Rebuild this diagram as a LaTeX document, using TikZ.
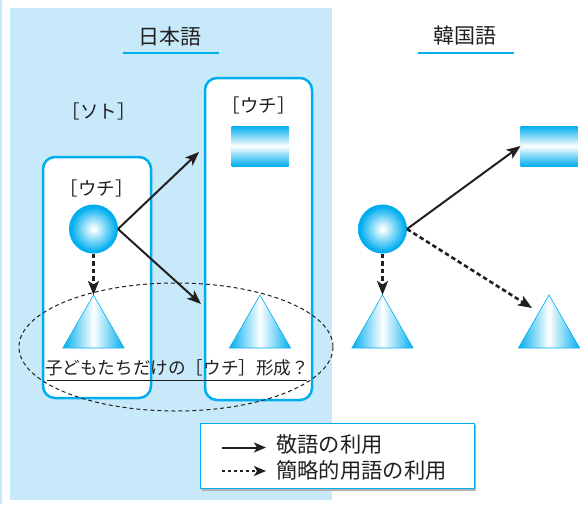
\documentclass[tikz,border=0pt]{standalone}
\usepackage{fontspec}
\setmainfont{Noto Sans CJK JP}
\usetikzlibrary{arrows.meta,shapes.geometric}
\definecolor{cyanA}{RGB}{0,174,239}
\definecolor{panelc}{RGB}{199,233,250}
\definecolor{ink}{RGB}{35,31,32}
\pgfdeclareradialshading{myball}{\pgfpoint{0bp}{0bp}}{rgb(0bp)=(1,1,1); rgb(2bp)=(0.95,0.99,1); rgb(23bp)=(0,0.682,0.937); rgb(50bp)=(0,0.682,0.937)}
\begin{document}
\begin{tikzpicture}[x=1pt,y=-1pt,
  ubox/.style={draw=cyanA,line width=2.5pt,fill=white,rounded corners=12pt},
  ball/.style={circle,minimum size=49pt,inner sep=0pt,outer sep=0pt,shading=myball},
  bar/.style={rectangle,minimum width=57pt,minimum height=40pt,inner sep=0pt,outer sep=0pt,top color=cyanA,bottom color=cyanA,middle color=white},
  tri/.style={regular polygon,regular polygon sides=3,minimum size=70.6pt,inner sep=0pt,outer sep=0pt,left color=cyanA,right color=cyanA,middle color=white,draw=cyanA,line width=0.6pt},
  solidarr/.style={draw=ink,line width=2pt,-{Stealth[length=14pt,width=11pt,inset=3.5pt]}},
  dotarr/.style={draw=ink,line width=2.6pt,dash pattern=on 4.5pt off 3pt,-{Stealth[length=14pt,width=11pt,inset=3.5pt]}},
  title/.style={font=\fontsize{21}{25}\selectfont,text=ink,inner sep=0pt},
  lab/.style={font=\fontsize{18.5}{22}\selectfont,text=ink,inner sep=0pt},
  legtext/.style={font=\fontsize{21.3}{25}\selectfont,text=ink,inner sep=0pt,anchor=west},
  uline/.style={draw=cyanA,line width=2pt}
]
\useasboundingbox (0,0) rectangle (580,504);
% panel
\fill[panelc] (10,8) rectangle (332,500);
\fill[panelc] (0,0) rectangle (1.8,504);
% titles
\node[title] (tj) at (170,37) {日本語};
\node[title] (tk) at (464.5,36) {韓国語};
\draw[uline] (123,53) -- (219,53);
\draw[uline] (418,53) -- (514,53);
% boxes
\draw[ubox] (43,157) rectangle (151,398);
\draw[ubox] (205,78) rectangle (312,400);
% ellipse
\draw[ink,line width=1pt,dash pattern=on 4pt off 3pt] (176,347) ellipse [x radius=157, y radius=64];
% labels
\node[lab] (soto) at (98.5,111.5) {［ソト］};
\node[lab] (uchiL) at (96.5,188) {［ウチ］};
\node[lab] (uchiR) at (258.5,105) {［ウチ］};
% japanese shapes
\node[ball] (cL) at (93.5,229) {};
\node[bar] (rJ) at (260,146) {};
\node[tri] (tL) at (93.5,330.3) {};
\node[tri] (tJ) at (260,330.3) {};
% korean shapes
\node[ball] (cK) at (382.5,229) {};
\node[bar] (rK) at (549,146) {};
\node[tri] (tK1) at (382.5,330.3) {};
\node[tri] (tK2) at (549,330.3) {};
% arrow end coordinates
\coordinate (eJu) at (199,152);
\coordinate (eJd) at (201,304);
\coordinate (eKd) at (532,308);
% arrows
\draw[solidarr] (cL.east) -- (eJu);
\draw[solidarr] (cL.east) -- (eJd);
\draw[dotarr] (cL.south) -- (tL.corner 1);
\draw[solidarr] (cK.east) -- (rK.west);
\draw[dotarr] (cK.east) -- (eKd);
\draw[dotarr] (cK.south) -- (tK1.corner 1);
% caption
\node[font=\fontsize{17.6}{21}\selectfont,text=ink,inner sep=0pt] (cap) at (177,367.5) {子どもたちだけの［ウチ］形成？};
\draw[ink,line width=1pt] (47,380) -- (307,380);
% legend
\fill[gray!60] (202,425) rectangle (476,490.5);
\node[draw=cyanA,line width=1.2pt,fill=white,rectangle,minimum width=274pt,minimum height=65pt,inner sep=0pt,anchor=north west] (leg) at (200,423) {};
\coordinate (l1a) at (222,447.5);
\coordinate (l1b) at (266,447.5);
\coordinate (l2a) at (222,471);
\coordinate (l2b) at (266,471);
\draw[draw=ink,line width=2pt,-{Stealth[length=12pt,width=10pt,inset=3pt]}] (l1a) -- (l1b);
\draw[draw=ink,line width=2pt,dash pattern=on 3pt off 3pt,-{Stealth[length=12pt,width=10pt,inset=3pt]}] (l2a) -- (l2b);
\node[legtext] (g1) at (276,444) {敬語の利用};
\node[legtext] (g2) at (276,470) {簡略的用語の利用};
\end{tikzpicture}
\end{document}
